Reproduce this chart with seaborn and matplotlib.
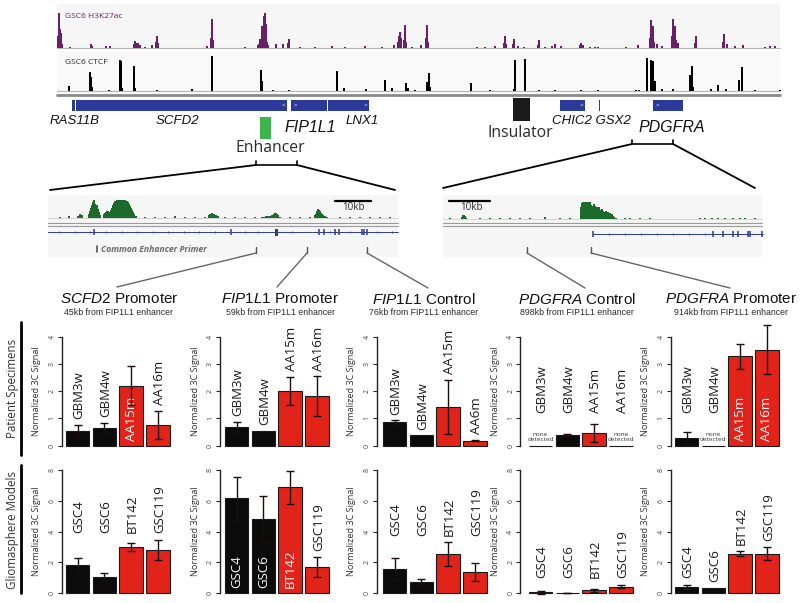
import numpy as np
import pandas as pd
import matplotlib
matplotlib.use("Agg")
import matplotlib.pyplot as plt
import seaborn as sns
from matplotlib.patches import Rectangle

sns.set_theme(style="white")
plt.rcParams['font.family'] = ['Open Sans', 'DejaVu Sans']
plt.rcParams['mathtext.fontset'] = 'custom'
plt.rcParams['mathtext.it'] = 'Liberation Sans:italic'
plt.rcParams['mathtext.rm'] = 'Liberation Sans'

# ---------------- data ----------------
patient_samples = [["GBM3w", "GBM4w", "AA15m", "AA16m"],
                   ["GBM3w", "GBM4w", "AA15m", "AA16m"],
                   ["GBM3w", "GBM4w", "AA15m", "AA6m"],
                   ["GBM3w", "GBM4w", "AA15m", "AA16m"],
                   ["GBM3w", "GBM4w", "AA15m", "AA16m"]]
model_samples = ["GSC4", "GSC6", "BT142", "GSC119"]

# NaN = none detected
patient_values = [[0.55, 0.65, 2.19, 0.75],
                  [0.69, 0.54, 2.00, 1.81],
                  [0.85, 0.37, 1.41, 0.18],
                  [np.nan, 0.38, 0.46, np.nan],
                  [0.27, np.nan, 3.28, 3.52]]
patient_errors = [[0.21, 0.18, 0.71, 0.52],
                  [0.18, 0.00, 0.52, 0.73],
                  [0.08, 0.00, 1.00, 0.03],
                  [0.00, 0.04, 0.32, 0.00],
                  [0.23, 0.00, 0.46, 0.90]]
model_values = [[1.82, 1.06, 3.00, 2.81],
                [6.16, 4.82, 6.87, 1.73],
                [1.60, 0.71, 2.53, 1.36],
                [0.08, 0.03, 0.19, 0.43],
                [0.41, 0.32, 2.57, 2.57]]
model_errors = [[0.50, 0.24, 0.27, 0.67],
                [1.40, 1.47, 1.07, 0.64],
                [0.67, 0.20, 0.77, 0.58],
                [0.10, 0.01, 0.09, 0.09],
                [0.16, 0.00, 0.15, 0.41]]
is_red = [False, False, True, True]

title_genes = ["SCFD2", "FIP1L1", "FIP1L1", "PDGFRA", "PDGFRA"]
title_kinds = ["Promoter", "Promoter", "Control", "Control", "Promoter"]
title_dist = ["45kb", "59kb", "76kb", "898kb", "914kb"]

# genome browser tracks (track position, signal)
h3k27ac_peaks = [(58, 12), (59, 35), (60, 19), (61, 15), (62, 4), (70, 1), (91, 4), (92, 2), (106, 2), (110, 2),
                 (134, 4), (135, 7), (136, 5), (138, 5), (140, 3), (145, 1), (152, 3), (156, 6), (157, 12),
                 (158, 5), (207, 2), (211, 10), (212, 29), (213, 8), (245, 1), (258, 3), (259, 4), (260, 9),
                 (261, 5), (262, 22), (263, 14), (264, 32), (265, 35), (266, 24), (267, 6), (268, 3),
                 (276, 4), (283, 4), (288, 5), (289, 9), (300, 1), (315, 1), (332, 2), (345, 1), (365, 2),
                 (382, 1), (394, 3), (398, 6), (399, 12), (400, 16), (401, 10), (404, 8), (405, 23), (406, 6),
                 (412, 1), (421, 3), (426, 10), (427, 23), (428, 6), (477, 1), (485, 1), (495, 2), (504, 5),
                 (505, 12), (506, 4), (513, 4), (514, 9), (518, 2), (524, 1), (538, 3), (539, 8), (545, 1),
                 (552, 2), (555, 4), (561, 2), (580, 3), (581, 5), (583, 3), (590, 1), (595, 1), (598, 1),
                 (626, 1), (638, 3), (650, 10), (651, 28), (652, 18), (653, 22), (654, 6), (657, 4),
                 (662, 2), (672, 12), (673, 29), (674, 20), (675, 22), (676, 8), (678, 5), (695, 5),
                 (696, 12), (723, 6), (724, 14), (727, 4), (735, 2), (743, 3), (765, 1), (770, 2), (775, 2)]
ctcf_peaks = [(69, 5), (90, 19), (91, 14), (92, 4), (109, 1), (120, 31), (121, 30), (122, 3), (134, 25),
              (135, 3), (157, 1), (192, 2), (212, 35), (261, 21), (262, 10), (273, 1), (289, 1), (337, 20),
              (344, 3), (366, 2), (385, 11), (392, 3), (406, 8), (408, 3), (415, 1), (427, 9), (429, 18),
              (430, 4), (471, 8), (490, 1), (514, 2), (515, 31), (525, 32), (539, 1), (555, 1), (581, 1),
              (598, 1), (636, 1), (639, 1), (647, 33), (651, 31), (653, 30), (655, 10), (662, 2), (673, 2),
              (690, 16), (692, 25), (693, 4), (711, 2), (718, 6), (726, 2), (739, 11), (742, 24), (755, 1),
              (780, 1)]
gene_names = ["RAS11B", "SCFD2", "FIP1L1", "LNX1", "CHIC2", "GSX2", "PDGFRA"]
gene_start = [72, 76, 291, 328, 560, 598.5, 653]
gene_end = [74.5, 287, 327, 369, 585, 599.5, 683]
gene_strand = ["", "<", ">", "<", "<", "", ">"]

# zoomed enhancer region (H3K27ac)
left_zoom_peaks = [(60, 0.6), (69, 2), (78, 2), (80, 4), (82, 3), (89, 4), (90, 7), (91, 10), (92, 13), (93, 16),
                   (94, 18), (95, 14), (96, 12), (97, 13), (98, 9), (99, 6), (100, 3), (104, 4), (105, 5),
                   (106, 6), (107, 7), (108, 7), (109, 6), (110, 5), (111, 8), (112, 10), (113, 13), (114, 15),
                   (115, 17), (116, 17), (117, 18), (118, 18), (119, 18), (120, 18), (121, 18), (122, 18),
                   (123, 18), (124, 17), (125, 18), (126, 17), (127, 17), (128, 16), (129, 14), (130, 12),
                   (131, 10), (132, 8), (133, 6), (134, 4), (136, 2), (145, 0.6), (155, 0.6), (165, 0.6),
                   (175, 2), (185, 0.6), (195, 0.6), (205, 0.6), (209, 3), (210, 4), (211, 4), (212, 5),
                   (213, 4), (214, 4), (215, 3), (216, 3), (218, 2), (225, 0.6), (235, 0.6), (245, 0.6),
                   (255, 0.6), (262, 1), (264, 1), (266, 2), (268, 2), (270, 2), (272, 3), (273, 3), (274, 4),
                   (275, 5), (276, 5), (277, 4), (278, 3), (280, 1), (290, 0.6), (300, 0.6), (310, 0.6),
                   (315, 3), (316, 4), (317, 7), (318, 9), (319, 8), (320, 7), (321, 5), (322, 4), (323, 3),
                   (325, 2), (327, 1), (340, 0.6), (350, 0.6), (360, 0.6), (370, 0.6), (380, 0.6), (390, 0.6)]
right_zoom_peaks = [(450, 0.6), (462, 2), (463, 4), (464, 4), (465, 3), (466, 1), (480, 0.6), (490, 0.6),
                    (500, 0.6), (510, 0.6), (520, 0.6), (530, 0.6), (545, 2), (560, 0.6), (570, 0.6),
                    (581, 12), (582, 16), (583, 17), (584, 17), (585, 14), (586, 17), (587, 16), (588, 17),
                    (589, 15), (590, 17), (591, 14), (592, 12), (593, 13), (594, 15), (595, 13), (596, 11),
                    (597, 12), (598, 10), (599, 12), (600, 9), (601, 8), (602, 10), (603, 8), (604, 6),
                    (605, 7), (606, 8), (607, 6), (608, 7), (609, 5), (610, 6), (611, 4), (612, 5), (613, 3),
                    (614, 2), (616, 1), (625, 1), (630, 1), (640, 1), (650, 0.6), (700, 0.7), (705, 0.7),
                    (712, 0.7), (718, 0.7), (725, 0.7), (733, 0.7), (740, 0.7), (745, 1), (755, 0.8)]
left_exons = [94, 231, 319, 324, 335, 339, 362, 364, 367]
left_introns = [59, 75, 90, 106, 122, 137, 153, 168, 184, 199, 215, 245, 258, 292, 330, 350, 377, 392]
right_exons = [593, 713, 723, 733, 738, 748, 750, 762]
right_introns = [609, 625, 641, 657, 673, 689, 705]

# ---------------- style ----------------
W, H = 800, 603
RED = "#e2231a"
BLACK = "#0b0b0b"
PURPLE = "#6b1f66"
GREEN = "#1d6b2c"
BLUE = "#2b3a9a"
TXT = "#2a2a2a"

fig = plt.figure(figsize=(W / 100, H / 100), dpi=100)
fig.patch.set_facecolor("white")


def px_axes(x0, y_top, w, h, z=1):
    ax = fig.add_axes([x0 / W, 1 - (y_top + h) / H, w / W, h / H])
    ax.set_zorder(z)
    ax.patch.set_alpha(0)
    return ax


ov = px_axes(0, 0, W, H, z=0)
ov.set_xlim(0, W)
ov.set_ylim(H, 0)
ov.axis("off")

# track backgrounds & baselines
ov.add_patch(Rectangle((57, 4), 723, 44, facecolor="#f6f6f6", edgecolor="none"))
ov.add_patch(Rectangle((57, 51), 723, 40, facecolor="#f9f9f9", edgecolor="none"))
ov.plot([57, 780], [48, 48], color="#b5b5b5", lw=0.8)
ov.plot([57, 780], [91, 91], color="#b5b5b5", lw=0.8)
ov.plot([57, 780], [95, 95], color="#8a8a8a", lw=2.0)
ov.text(65, 17, "GSC6 H3K27ac", color=PURPLE, fontsize=6, va="center")
ov.text(65, 62, "GSC6 CTCF", color=TXT, fontsize=6, va="center")

ax_h3 = px_axes(0, 48 - 36, W, 36, z=0.5)
ax_h3.set_xlim(0, W)
ax_h3.set_ylim(0, 36)
ax_h3.axis("off")
ax_h3.bar([p for p, _ in h3k27ac_peaks], [v for _, v in h3k27ac_peaks], width=1.4, color=PURPLE, linewidth=0)

ax_ct = px_axes(0, 91 - 36, W, 36, z=0.5)
ax_ct.set_xlim(0, W)
ax_ct.set_ylim(0, 36)
ax_ct.axis("off")
ax_ct.bar([p for p, _ in ctcf_peaks], [v for _, v in ctcf_peaks], width=1.2, color="black", linewidth=0)

# genes
for name, s, e, strand in zip(gene_names, gene_start, gene_end, gene_strand):
    ov.add_patch(Rectangle((s, 100), e - s, 10.5, facecolor=BLUE, edgecolor="none"))
    if strand == "<":
        ov.text(e - 4, 105, "<", color="white", fontsize=4.5, ha="center", va="center")
    elif strand == ">":
        ov.text(s + 4, 105, ">", color="white", fontsize=4.5, ha="center", va="center")

gfont = dict(family="Liberation Sans", style="italic", color="#111111")
ov.text(75, 121, "RAS11B", fontsize=9.5, ha="center", va="center", **gfont)
ov.text(177, 121, "SCFD2", fontsize=9.5, ha="center", va="center", **gfont)
ov.text(310, 127, "FIP1L1", fontsize=11.5, ha="center", va="center", **gfont)
ov.text(362, 121, "LNX1", fontsize=9.5, ha="center", va="center", **gfont)
ov.text(591, 121, "CHIC2 GSX2", fontsize=9.5, ha="center", va="center", **gfont)
ov.text(672, 128, "PDGFRA", fontsize=11.5, ha="center", va="center", **gfont)

ov.add_patch(Rectangle((260, 117), 11, 22, facecolor="#3db54a", edgecolor="none"))
ov.text(270, 148, "Enhancer", fontsize=11.3, ha="center", va="center", color=TXT)
ov.add_patch(Rectangle((513, 98), 17, 23, facecolor="#1a1a1a", edgecolor="none"))
ov.text(520, 133, "Insulator", fontsize=11.3, ha="center", va="center", color=TXT)

# brackets + zoom lines
ov.plot([256, 256, 297, 297], [161, 165, 165, 161], color="black", lw=1.2)
ov.plot([256, 50], [165, 190], color="black", lw=1.3)
ov.plot([297, 395], [165, 190], color="black", lw=1.3)
ov.plot([632, 632, 673, 673], [140, 144, 144, 140], color="black", lw=1.2)
ov.plot([632, 443], [144, 188], color="black", lw=1.3)
ov.plot([673, 755], [144, 188], color="black", lw=1.3)

# insets
for x0, x1 in [(48, 398), (443, 762)]:
    ov.add_patch(Rectangle((x0, 195), x1 - x0, 62, facecolor="#f6f6f6", edgecolor="none"))
    ov.plot([x0, x1], [223, 223], color="#9a9a9a", lw=0.8)
    ov.plot([x0, x1], [225.8, 225.8], color="#9a9a9a", lw=0.8)
ov.plot([48, 398], [217.5, 217.5], color="#c8c8c8", lw=0.5)
ov.plot([443, 762], [218.5, 218.5], color="#c8c8c8", lw=0.5)

ax_lz = px_axes(0, 217.5 - 20, W, 20, z=0.5)
ax_lz.set_xlim(0, W)
ax_lz.set_ylim(0, 20)
ax_lz.axis("off")
ax_lz.bar([p for p, _ in left_zoom_peaks], [v for _, v in left_zoom_peaks], width=1.25, color=GREEN, linewidth=0)
ax_rz = px_axes(0, 218.5 - 20, W, 20, z=0.5)
ax_rz.set_xlim(0, W)
ax_rz.set_ylim(0, 20)
ax_rz.axis("off")
ax_rz.bar([p for p, _ in right_zoom_peaks], [v for _, v in right_zoom_peaks], width=1.25, color=GREEN, linewidth=0)

ov.plot([48, 398], [232, 232], color=BLUE, lw=0.7)
ov.vlines(left_exons, 229, 235, colors=BLUE, lw=1.1)
ov.vlines(left_introns, 231, 233, colors=BLUE, lw=0.6)
ov.add_patch(Rectangle((275, 228.5), 3, 7, facecolor=BLUE, edgecolor="none"))
ov.plot([593, 763], [234, 234], color=BLUE, lw=0.7)
ov.vlines(right_exons, 231, 237, colors=BLUE, lw=1.1)
ov.vlines(right_introns, 233, 235, colors=BLUE, lw=0.6)

ov.plot([335, 371], [200.7, 200.7], color="black", lw=1.6)
ov.text(353, 208, "10kb", fontsize=7, ha="center", va="center", color=TXT)
ov.plot([449, 490], [201, 201], color="black", lw=1.6)
ov.text(471, 208, "10kb", fontsize=7, ha="center", va="center", color=TXT)
ov.plot([97, 97], [246, 252], color="#555555", lw=1.2)
ov.text(101, 249.5, "Common Enhancer Primer", fontsize=6.2, style="italic", weight="bold",
        color="#6a6a6a", ha="left", va="center")

primer_links = [(256, 117, 287), (307, 277, 287), (367, 428, 288), (527, 585, 288), (591, 730, 288)]
for xp, xt, yt in primer_links:
    ov.plot([xp, xp], [247, 253], color="#555555", lw=1.0)
    ov.plot([xp, xt], [253, yt], color="#666666", lw=1.0)

# titles
title_x = [119, 280, 424, 577, 731]
for tx, g, k, d in zip(title_x, title_genes, title_kinds, title_dist):
    ov.text(tx, 299, r"$\mathit{" + g + "}$ " + k, fontsize=11, family="Liberation Sans",
            ha="center", va="center", color="#111111")
    ov.text(tx, 312.5, d + " from FIP1L1 enhancer", fontsize=6.3, family="Liberation Sans",
            ha="center", va="center", color=TXT)

# row labels
ov.text(12.5, 388, "Patient Specimens", rotation=90, fontsize=8.3, ha="center", va="center", color="#333333")
ov.plot([21, 21], [322, 455], color="black", lw=2)
ov.text(12.5, 530, "Gliomasphere Models", rotation=90, fontsize=8.3, ha="center", va="center", color="#333333")
ov.plot([21, 21], [465, 593], color="black", lw=2)

# ---------------- bar panels ----------------
first_center = [77.5, 236.5, 394.5, 540.5, 686.5]
left_off = [0.58, 0.61, 0.66, 0.75, 0.58]
unit = 26.8
rows = [(445.5, 109.0, 4, [0, 1, 2, 3, 4], patient_samples, patient_values, patient_errors),
        (593.3, 123.3, 8, [0, 2, 4, 6, 8], [model_samples] * 5, model_values, model_errors)]

for y0, hpx, ymax, ticks, samples_all, vals_all, errs_all in rows:
    for p in range(5):
        lx = first_center[p] - left_off[p] * unit
        wpx = (3.55 + left_off[p]) * unit
        ax = px_axes(lx, y0 - hpx, wpx, hpx, z=2)
        samples = samples_all[p]
        vals = np.array(vals_all[p], dtype=float)
        errs = np.array(errs_all[p], dtype=float)
        none = np.isnan(vals)
        plot_vals = np.where(none, 0.0, vals)
        df = pd.DataFrame({"sample": samples, "value": plot_vals})
        pal = {s: (RED if r else BLACK) for s, r in zip(samples, is_red)}
        sns.barplot(data=df, x="sample", y="value", hue="sample", palette=pal, legend=False,
                    order=samples, width=0.88, edgecolor="#1a1a1a", linewidth=0.8, ax=ax,
                    saturation=1)
        for patch in ax.patches:
            patch.set_clip_on(False)
        xs = np.arange(4)
        sel = (~none) & (errs > 0)
        if sel.any():
            eb = ax.errorbar(xs[sel], vals[sel], yerr=errs[sel], fmt="none", ecolor="#1c0d0d",
                             elinewidth=1.0, capsize=2.6, capthick=1.0, zorder=5)
            for art in list(eb.lines[1]) + list(eb.lines[2]):
                art.set_clip_on(False)
        has_none = none.any()
        inside = plot_vals > 0.52 * ymax
        tops = plot_vals + np.where(none, 0, errs)
        out_tops = tops[~inside & ~none]
        aligned = (not has_none) and len(out_tops) > 1 and \
            (out_tops.max() - out_tops.min()) < 0.32 * ymax and out_tops.max() > 0.35 * ymax
        for i in range(4):
            v = plot_vals[i]
            if inside[i]:
                ax.text(i, 0.04 * ymax, samples[i], rotation=90, ha="center", va="bottom",
                        fontsize=9.5, color="white")
            else:
                base = (out_tops.max() if aligned else tops[i]) + 0.05 * ymax
                if has_none or (len(out_tops) and out_tops.max() < 0.15 * ymax):
                    base = max(base, 0.3 * ymax if has_none else 0.125 * ymax)
                ax.text(i + 0.06, base, samples[i], rotation=90, ha="center", va="bottom",
                        fontsize=9.5, color="#1a1a1a")
            if none[i]:
                ax.text(i, 0.03 * ymax, "none\ndetected", ha="center", va="bottom", fontsize=4.6,
                        linespacing=1.1, color="#333333")
        ax.set_xlim(-left_off[p], 3.55)
        ax.set_ylim(0, ymax)
        ax.set_xticks([])
        ax.set_xlabel("")
        ax.set_yticks(ticks)
        ax.set_yticklabels([str(t) for t in ticks])
        for lab in ax.get_yticklabels():
            lab.set_rotation(90)
            lab.set_va("center")
            lab.set_fontsize(5)
            lab.set_color("#444444")
        ax.tick_params(axis="y", left=True, direction="out", length=3.2, width=0.8, pad=1.2,
                       color="#222222")
        for s in ["top", "right", "bottom"]:
            ax.spines[s].set_visible(False)
        ax.spines["left"].set_bounds(0, ymax)
        ax.spines["left"].set_color("#222222")
        ax.spines["left"].set_linewidth(1.0)
        ax.set_ylabel("Normalized 3C Signal", fontsize=6.6, color="#333333")
        ax.yaxis.set_label_coords(-20.5 / wpx, 0.5)
        ax.grid(False)

fig.savefig("out.png", dpi=100, facecolor="white")
